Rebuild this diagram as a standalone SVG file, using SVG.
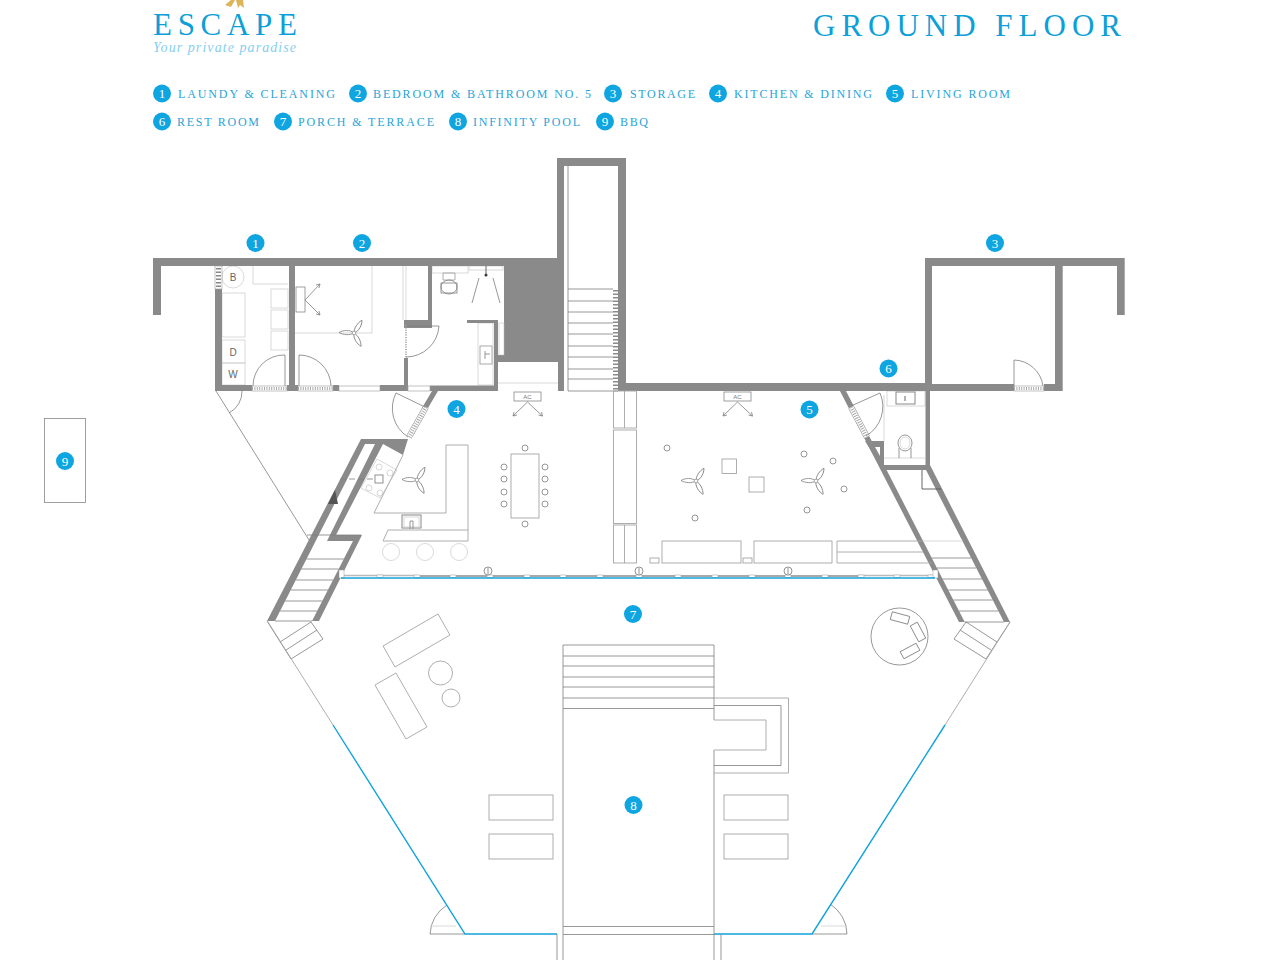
<svg xmlns="http://www.w3.org/2000/svg" width="1280" height="960" viewBox="0 0 1280 960">
<style>
.w{fill:#8a8a8a;stroke:none}
.l{fill:none;stroke:#7d7d7d;stroke-width:.8}
.d{fill:none;stroke:#555;stroke-width:.9}
.f{fill:none;stroke:#cfcfcf;stroke-width:.8}
.m{fill:none;stroke:#a5a5a5;stroke-width:.9}
.b{fill:none;stroke:#12a3dc;stroke-width:1.4}
.c{fill:#0ea5e0}
.n{fill:#fff;font:13px "Liberation Serif",serif;text-anchor:middle}
.t{fill:#2aa4d8;font:12px "Liberation Serif",serif}
.h{fill:#0e9fd8;font:31px "Liberation Serif",serif}
.g{fill:#fff;stroke:#999;stroke-width:.6}
.hb{stroke:#8f8f8f;stroke-width:6;fill:none}
.hw{stroke:#fff;stroke-width:5;fill:none}
.hd{stroke:#a8a8a8;stroke-width:4;stroke-dasharray:1 1.4;fill:none}
.s{font:6px "Liberation Sans",sans-serif;fill:#777;text-anchor:middle}
.x{font:10px "Liberation Sans",sans-serif;fill:#666;text-anchor:middle}
</style>
<defs>
<g id="fan"><g class="l"><path d="M0,0C-4,-3.5 -11,-3 -15,-.5C-11,2 -4,2.5 0,0Z"/><path d="M0,0C-4,-3.5 -11,-3 -15,-.5C-11,2 -4,2.5 0,0Z" transform="rotate(120)"/><path d="M0,0C-4,-3.5 -11,-3 -15,-.5C-11,2 -4,2.5 0,0Z" transform="rotate(240)"/></g><circle r="1.8" fill="#fff" stroke="#7d7d7d" stroke-width=".6"/></g>
<g id="ac"><rect x="-13.500" y="0" width="27" height="9" fill="#fff" stroke="#888" stroke-width=".8"/><text class="s" y="7">AC</text><path class="l" d="M0,10L-14.500,24M-14.500,24l1,-4M-14.500,24l4,-1M0,10L15,24M15,24l-1,-4M15,24l-4,-1"/></g>
<rect id="mu" x="-3" y="575" width="6" height="2.500" fill="#fff" stroke="#999" stroke-width=".5"/>
<g id="clock"><circle r="4" fill="#fff" stroke="#666" stroke-width=".7"/><path d="M0,-3V3" stroke="#666" stroke-width=".7"/></g>
</defs>
<rect width="1280" height="960" fill="#fff"/>

<g id="logo">
<path d="M225,5L231,0H235L231,7ZM236,0H243L244,8L240,5L238,8Z" fill="#dcb45a"/>
<text class="h" x="153" y="35" textLength="144" lengthAdjust="spacing">ESCAPE</text>
<text x="153" y="52" textLength="143" lengthAdjust="spacing" font-family="Liberation Serif,serif" font-style="italic" font-size="14" fill="#86cfee">Your private paradise</text>
</g>
<text id="title" class="h" x="813" y="36" textLength="308" lengthAdjust="spacing">GROUND FLOOR</text>

<g id="legend">
<g><circle class="c" cx="162" cy="93.500" r="9"/><text class="n" x="162" y="98">1</text><text class="t" x="178" y="98" textLength="157" lengthAdjust="spacing">LAUNDY &amp; CLEANING</text></g>
<g><circle class="c" cx="358" cy="93.500" r="9"/><text class="n" x="358" y="98">2</text><text class="t" x="373" y="98" textLength="218" lengthAdjust="spacing">BEDROOM &amp; BATHROOM NO. 5</text></g>
<g><circle class="c" cx="613" cy="93.500" r="9"/><text class="n" x="613" y="98">3</text><text class="t" x="630" y="98" textLength="65" lengthAdjust="spacing">STORAGE</text></g>
<g><circle class="c" cx="718" cy="93.500" r="9"/><text class="n" x="718" y="98">4</text><text class="t" x="734" y="98" textLength="138" lengthAdjust="spacing">KITCHEN &amp; DINING</text></g>
<g><circle class="c" cx="895" cy="93.500" r="9"/><text class="n" x="895" y="98">5</text><text class="t" x="911" y="98" textLength="99" lengthAdjust="spacing">LIVING ROOM</text></g>
<g><circle class="c" cx="162" cy="121.500" r="9"/><text class="n" x="162" y="126">6</text><text class="t" x="177" y="126" textLength="82" lengthAdjust="spacing">REST ROOM</text></g>
<g><circle class="c" cx="283" cy="121.500" r="9"/><text class="n" x="283" y="126">7</text><text class="t" x="298" y="126" textLength="136" lengthAdjust="spacing">PORCH &amp; TERRACE</text></g>
<g><circle class="c" cx="458" cy="121.500" r="9"/><text class="n" x="458" y="126">8</text><text class="t" x="473" y="126" textLength="107" lengthAdjust="spacing">INFINITY POOL</text></g>
<g><circle class="c" cx="605" cy="121.500" r="9"/><text class="n" x="605" y="126">9</text><text class="t" x="620" y="126" textLength="28" lengthAdjust="spacing">BBQ</text></g>
</g>

<g id="furniture-light">
<circle class="f" cx="233" cy="277" r="11"/>
<rect class="f" x="222" y="293" width="23" height="44"/><rect class="f" x="222" y="340" width="23" height="23"/><rect class="f" x="222" y="363" width="23" height="22"/>
<rect class="f" x="271" y="289" width="17" height="19"/><rect class="f" x="271" y="310" width="17" height="19"/><rect class="f" x="271" y="331" width="17" height="19"/>
<path class="f" d="M253,266V284H288"/>
<text class="x" x="233" y="281">B</text><text class="x" x="233" y="356">D</text><text class="x" x="233" y="378">W</text>
<path class="f" d="M295,333H372V266M403,266V320M406,266V320"/>
<rect class="f" x="432" y="266" width="36" height="7"/><rect class="f" x="469" y="266" width="34" height="4"/>
<rect class="f" x="478" y="323" width="15" height="62"/><rect x="480" y="346" width="12" height="18" fill="#fff" stroke="#aaa" stroke-width="1"/>
<rect class="f" x="887" y="391" width="38" height="15"/><path class="f" d="M884,395V441M884,458H925"/>
<circle class="f" cx="391" cy="552" r="8.500"/><circle class="f" cx="425" cy="552" r="8.500"/><circle class="f" cx="459" cy="552" r="8.500"/>
<path class="f" d="M377,459L397,470L380,498L361,488Z"/>
<circle class="f" cx="379" cy="467" r="3"/><circle class="f" cx="390" cy="473" r="3"/><circle class="f" cx="369" cy="488" r="3"/><circle class="f" cx="380" cy="493" r="3"/>
</g>

<g id="walls">
<path class="w" d="M153,258H504V266H432V328H404V320H428V266H295V391H289V266H222V391H215V266H161V315H153Z"/>
<rect class="w" x="404" y="358" width="4" height="33"/>
<path class="w" d="M504,258H557V158H626V383H925V391H618V166H564V391H558V362H498V391H494V323H467V320H498V355H504Z"/>
<rect class="w" x="215" y="385" width="37" height="6"/><rect class="w" x="287" y="385" width="11" height="6"/><rect class="w" x="333" y="385" width="6" height="6"/><rect class="w" x="380" y="385" width="28" height="6"/><rect class="w" x="430" y="385.500" width="67" height="5.500"/>
<path class="w" d="M925,258H1124.700V315H1117V266H1062.700V391H1044V384H1055V266H932V384H1014V391H925Z"/>
<rect class="w" x="925.500" y="391" width="4.500" height="79"/>
<rect class="w" x="884" y="465" width="46" height="5"/>
<path class="w" d="M840,391H846L964.700,622H959Z"/>
<path class="w" d="M865,441H884V465H880L865,441Z"/><path fill="#fff" d="M875,447H880V456Z"/>
<path class="w" d="M926,470L930,465L1010,622H1004Z"/>
<path class="w" d="M432,391H438L428,408H422ZM361,439H408L403,455L383,444H365L275,621H267Z"/>
<path class="w" d="M375,444H383L336,535H362L319,621H312L353,541H327Z"/>
<rect x="499" y="323" width="5" height="32" fill="#fff" stroke="#bbb" stroke-width=".5"/>
</g>

<g id="openings">
<rect class="g" x="215" y="266" width="7" height="23"/><path d="M218.500,268V288" stroke="#888" stroke-width="5" stroke-dasharray="1.500 2" fill="none"/>
<rect class="g" x="252" y="386" width="35" height="5"/><path class="hd" d="M252,388.500H287" style="stroke-width:3"/>
<rect class="g" x="298" y="386" width="35" height="5"/><path class="hd" d="M298,388.500H333" style="stroke-width:3"/>
<rect class="g" x="339" y="386" width="41" height="5"/><rect class="g" x="408" y="386" width="22" height="5"/>
<rect class="g" x="1014" y="386" width="30" height="5"/><path class="hd" d="M1014,388.500H1044" style="stroke-width:3"/>
<path class="hd" d="M406,325V358" style="stroke-width:2"/>
<path class="hb" d="M426,407L409,437"/><path class="hw" d="M426,407L409,437"/><path class="hd" d="M426,407L409,437"/>
<path class="hb" d="M851,407L867,437"/><path class="hw" d="M851,407L867,437"/><path class="hd" d="M851,407L867,437"/>
<path d="M615.500,290V391" stroke="#8a8a8a" stroke-width="5" stroke-dasharray="1.600 1.900" fill="none"/>
<path class="l" d="M285,386V355A31,31 0 0 0 253,386"/>
<path class="l" d="M299,386V355A32,32 0 0 1 331,386"/>
<path class="l" d="M229,413A24,24 0 0 0 242,391"/>
<path class="l" d="M406,326H439A33,33 0 0 1 406,357"/>
<path class="l" d="M425,407L396,393A34,34 0 0 0 408,437"/>
<path class="l" d="M851,406L880,393A34,34 0 0 1 866,436"/>
<path class="l" d="M1014,386V360A30,30 0 0 1 1043,386"/>
<path class="l" d="M430,934A36,36 0 0 1 447,905M465,934H430"/>
<path class="l" d="M847,934A36,36 0 0 0 830,904M812,934H847"/>
<path class="f" d="M430,926H456M821,926H847"/>
<path class="l" d="M216,391L309,540"/>
</g>

<g id="stairs">
<path class="l" d="M568,166V391M568,289H613M568,301H613M568,312H613M568,323H613M568,334H613M568,346H613M568,357H613M568,369H613M568,379H613M568,391H618"/>
<path class="f" d="M498,383H558"/>
<path class="l" d="M306.500,559H343.800M301.400,569H338.700M295.900,580H333M290.800,590H328M285.200,601H322.500M280.100,611H317.300M275,621H312"/>
<path class="l" d="M931.800,558H971M937,568H976.300M942.600,579H982M948.300,590H987.600M953.400,600H992.700M959,611H998.400M964.700,622H1004"/>
<path class="d" d="M922,470V489H941"/>
<path class="l" d="M267,621L291,659L323,639L311,622L280,642M286,650L317,630"/>
<path class="l" d="M1010,622L986,659L954,639L966,622L997,642M991,650L960,630"/>
</g>

<g id="fixtures">
<rect x="296" y="287" width="9" height="25" fill="#fff" stroke="#888" stroke-width=".8"/>
<path class="l" d="M305,300L320,284M320,284l-4,1M320,284l-1,4M305,300L320,315M320,315l-4,-1M320,315l-1,-4"/>
<use href="#fan" x="354" y="333"/>
<path class="m" d="M443,273H455V280H443Z"/><ellipse cx="449" cy="287" rx="8" ry="7" class="l"/><rect x="441" y="283" width="16" height="10" class="l"/>
<circle cx="486" cy="275" r="1.500" fill="#333"/><path class="d" d="M486,266V275"/>
<path class="l" d="M479,278L472,303M493,278L500,303"/>
<path class="l" d="M485,351V359M485,354H490"/>
<use href="#ac" x="527.500" y="392"/><use href="#ac" x="737.500" y="392"/>
<path class="m" d="M446,445H468V541H383L388,530H468M446,445V513H374L403,455"/>
<rect x="402" y="515" width="19" height="13" fill="#fff" stroke="#888" stroke-width="1"/><rect x="404" y="517" width="15" height="10" class="f"/>
<path class="l" d="M410,529V521H413V529"/>
<use href="#fan" x="417" y="480"/>
<rect x="375" y="475" width="8" height="8" fill="#fff" stroke="#777" stroke-width=".8"/>
<path class="l" d="M340,479H375" stroke-dasharray="6 3"/>
<path fill="#555" d="M335,490L338,504H328Z"/>
<path class="l" d="M307,535H361"/>
<rect class="m" x="511" y="454" width="28" height="64"/>
<g class="l"><circle cx="504" cy="467" r="3"/><circle cx="504" cy="479" r="3"/><circle cx="504" cy="492" r="3"/><circle cx="504" cy="504" r="3"/><circle cx="545" cy="467" r="3"/><circle cx="545" cy="479" r="3"/><circle cx="545" cy="492" r="3"/><circle cx="545" cy="504" r="3"/><circle cx="525" cy="448" r="3"/><circle cx="525" cy="524" r="3"/></g>
<g class="m"><rect x="613.500" y="391" width="23" height="37"/><rect x="613.500" y="430" width="23" height="93.500"/><rect x="613.500" y="525" width="23" height="38"/><path d="M624.500,391V428M624.500,525V563"/></g>
<use href="#fan" x="696" y="481"/><use href="#fan" x="816" y="481"/>
<rect class="m" x="722" y="459" width="14.500" height="14.500"/><rect class="m" x="749" y="477" width="15" height="15"/>
<g class="l"><circle cx="667" cy="448" r="3"/><circle cx="695" cy="518" r="3"/><circle cx="804" cy="454" r="3"/><circle cx="833" cy="461" r="3"/><circle cx="844" cy="489" r="3"/><circle cx="807" cy="510" r="3"/></g>
<rect class="m" x="662" y="541" width="79" height="22"/><rect class="m" x="754" y="541" width="78" height="22"/>
<rect class="m" x="650" y="558" width="9" height="5"/><rect class="m" x="743" y="558" width="9" height="5"/>
<path class="m" d="M923,552H837V541H923M837,552V563H932"/><path class="f" d="M923,541H963"/>
<rect x="896" y="392" width="19" height="12" fill="#fff" stroke="#888" stroke-width="1"/><path class="d" d="M905,396V401"/>
<ellipse class="l" cx="905" cy="443" rx="7" ry="8"/><ellipse class="f" cx="905" cy="443" rx="5" ry="6"/><path class="l" d="M899,448V458M911,448V458"/>
<path d="M342,575.500H418" stroke="#bbb" stroke-width="1.500"/><path d="M418,576H858" stroke="#555" stroke-width="1.200"/><path d="M858,575.500H935" stroke="#bbb" stroke-width="1.500"/>
<g><use href="#mu" x="380"/><use href="#mu" x="417"/><use href="#mu" x="453"/><use href="#mu" x="490"/><use href="#mu" x="527"/><use href="#mu" x="563"/><use href="#mu" x="600"/><use href="#mu" x="639"/><use href="#mu" x="678"/><use href="#mu" x="715"/><use href="#mu" x="752"/><use href="#mu" x="788"/><use href="#mu" x="825"/><use href="#mu" x="861"/><use href="#mu" x="897"/><use href="#mu" x="931"/></g>
<use href="#clock" x="488" y="571"/><use href="#clock" x="639" y="571"/><use href="#clock" x="788" y="571"/>
<rect x="339" y="570" width="5" height="8" fill="#fff" stroke="#999" stroke-width=".5"/><rect x="933" y="570" width="5" height="8" fill="#fff" stroke="#999" stroke-width=".5"/>
<path class="b" d="M341,578H935"/>
</g>

<g id="terrace">
<path class="m" d="M268,622L333,725M1010,622L945,725"/>
<path class="b" d="M333,725L465,934H557M945,725L812,934H714"/>
<path class="m" d="M383,646L438,614L450,635L395,667Z"/>
<path class="m" d="M396,673L427,727L406,739L375,685Z"/>
<circle class="m" cx="440.500" cy="673" r="12"/><circle class="m" cx="451" cy="698" r="9"/>
<circle class="l" cx="899.500" cy="636.500" r="28.500"/>
<rect class="l" x="891" y="614" width="18" height="8" transform="rotate(15 900 618)"/>
<rect class="l" x="909" y="628" width="18" height="8" transform="rotate(62 918 632)"/>
<rect class="l" x="901" y="647" width="18" height="8" transform="rotate(-28 910 651)"/>
<rect class="m" x="489" y="795" width="64" height="25"/><rect class="m" x="489" y="834" width="64" height="25"/>
<rect class="m" x="724" y="795" width="64" height="25"/><rect class="m" x="724" y="834" width="64" height="25"/>
</g>

<g id="pool">
<path class="l" d="M563,960V645H714V720M714,750V960"/>
<path class="l" d="M563,656H714M563,666H714M563,677H714M563,687H714M563,698H714M563,708.500H714"/>
<path class="m" d="M714,698H788.500V773H714"/>
<path class="l" d="M714,705.500H781V765.500H714"/>
<path class="m" d="M714,720H766V750H714"/>
<path class="l" d="M563,926.500H714M563,934.500H714"/>
<path class="l" d="M557,934V960M721,934V960"/>
</g>

<rect id="bbq" x="44.500" y="418.500" width="41" height="84" fill="#fff" stroke="#888" stroke-width=".8"/>

<g id="markers">
<g id="n1"><circle class="c" cx="255.500" cy="243" r="9"/><text class="n" x="255.500" y="247.500">1</text></g>
<g id="n2"><circle class="c" cx="362" cy="243" r="9"/><text class="n" x="362" y="247.500">2</text></g>
<g id="n3"><circle class="c" cx="995" cy="243" r="9"/><text class="n" x="995" y="247.500">3</text></g>
<g id="n4"><circle class="c" cx="456.500" cy="409" r="9"/><text class="n" x="456.500" y="413.500">4</text></g>
<g id="n5"><circle class="c" cx="809.500" cy="409.500" r="9"/><text class="n" x="809.500" y="414">5</text></g>
<g id="n6"><circle class="c" cx="888.500" cy="368.500" r="9"/><text class="n" x="888.500" y="373">6</text></g>
<g id="n7"><circle class="c" cx="633" cy="614" r="9"/><text class="n" x="633" y="618.500">7</text></g>
<g id="n8"><circle class="c" cx="633.500" cy="805" r="9"/><text class="n" x="633.500" y="809.500">8</text></g>
<g id="n9"><circle class="c" cx="65" cy="461" r="9"/><text class="n" x="65" y="465.500">9</text></g>
</g>
</svg>
